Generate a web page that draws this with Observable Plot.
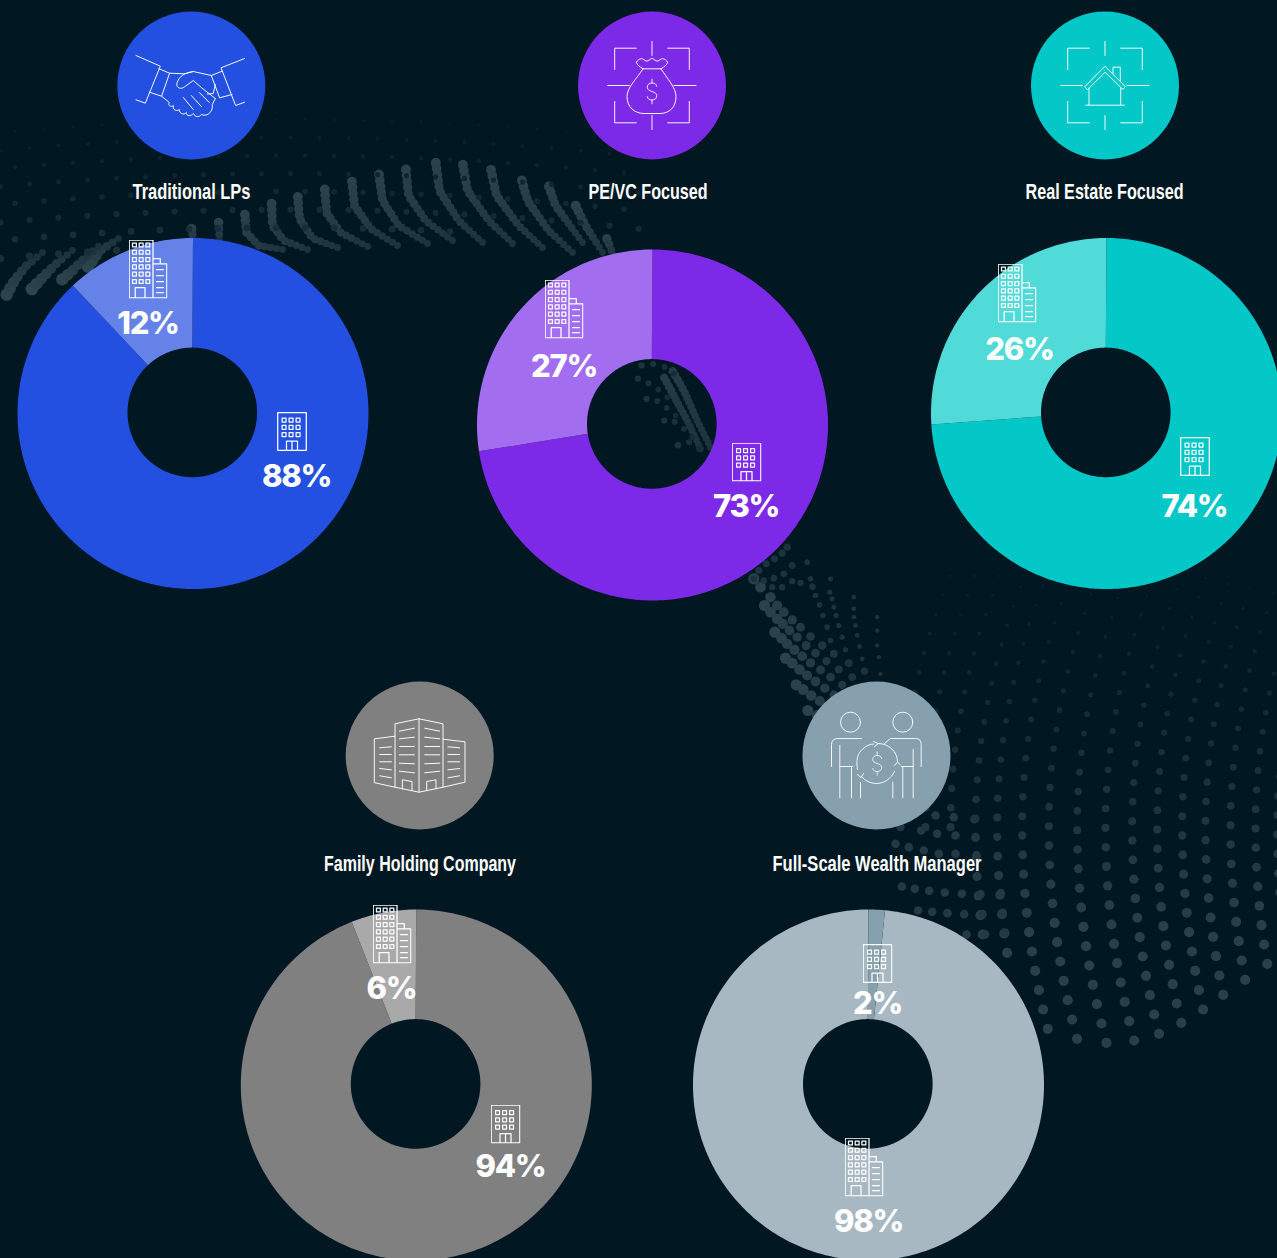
<!doctype html>
<html><head><meta charset="utf-8">
<style>html,body{margin:0;padding:0;background:#011722;overflow:hidden}svg{display:block}</style>
<script src="https://cdn.jsdelivr.net/npm/d3@7"></script>
<script src="https://cdn.jsdelivr.net/npm/@observablehq/plot@0.6"></script>
</head><body><div id="chart"></div>
<script>
// ---------- chart values ----------
const categories = ["Traditional LPs","PE/VC Focused","Real Estate Focused","Family Holding Company","Full-Scale Wealth Manager"];
const minorShare = [12, 27.4, 26, 6, 1.5];           // slice size
const minorLabels = ["12%","27%","26%","6%","2%"];
const majorLabels = ["88%","73%","74%","94%","98%"];
const mainColors = ["#2350e0","#7d2ae8","#04c8c8","#808080","#a8b8c2"];
const minorColors = ["#6482e8","#a36df0","#50dbd9","#a9a9a9","#87a0ad"];
const badgeColors = ["#2350e0","#7d2ae8","#04c8c8","#808080","#87a0ad"];

// ---------- layout ----------
const W = 1277, H = 1258, R = 175.5, r0 = 64.8, BG = "#011722";
const centers = [[192.5,413],[652,424.5],[1106,413],[415.8,1084.5],[868,1084.5]];
const badges = [[190.8,85],[651.5,85],[1104.5,85],[419.2,755],[876,755]];
const titlePos = [[191,192],[647.5,192],[1104,192],[419.5,864],[876.5,864]];
const titleWidths = [118,119,158,192,209];
const minorLabelPos = [[147.5,323.5],[563.5,366.5],[1019,349.5],[391,988.500],[877,1003.5]];
const majorLabelPos = [[296,476.5],[745.5,506.5],[1194,506.5],[510,1166.5],[868,1221.5]];
const tallPos = [[147.5,268.5],[563.5,308.5],[1016.5,292.5],[391.5,933.5],[863.5,1166.5]];
const smallPos = [[291.5,431],[746,461.5],[1194.5,456],[505,1123.5],[877,963]];

// ---------- donut slices ----------
function slicePts(i, a0, a1, color, id){
  const [cx,cy] = centers[i], n = Math.max(2, Math.ceil(a1-a0)), pts = [];
  const rad = a => a*Math.PI/180;
  for(let k=0;k<=n;k++){const a=rad(a0+(a1-a0)*k/n);pts.push({x:cx+R*Math.sin(a),y:cy-R*Math.cos(a),color,id});}
  for(let k=n;k>=0;k--){const a=rad(a0+(a1-a0)*k/n);pts.push({x:cx-.7+r0*Math.sin(a),y:cy-1.1+-r0*Math.cos(a),color,id});}
  return pts;
}
const slices = categories.flatMap((c,i)=>{
  const m = minorShare[i]*3.6;
  return i===4
    ? [...slicePts(i,m,360,mainColors[i],c+"-a"),...slicePts(i,0,m,minorColors[i],c+"-b")]
    : [...slicePts(i,0,360-m,mainColors[i],c+"-a"),...slicePts(i,360-m,360,minorColors[i],c+"-b")];
});

// ---------- decorative dotted texture ----------
const texture = [];
const tint = d3.interpolateRgb(BG,"#8fa7ae");
const add=(x,y,r,o)=>texture.push({x,y,r,o,c:tint(o)});
function strand(pts,step,r1,r2,o1,o2){
  let tot=0; const seg=[];
  for(let i=1;i<pts.length;i++){const d=Math.hypot(pts[i][0]-pts[i-1][0],pts[i][1]-pts[i-1][1]);seg.push(d);tot+=d;}
  for(let s=tot;s>=0;s-=step){
    let t=s,i=0; while(i<seg.length-1&&t>seg[i]){t-=seg[i];i++;}
    const f=t/seg[i],q=s/tot;
    add(pts[i][0]+(pts[i+1][0]-pts[i][0])*f,pts[i][1]+(pts[i+1][1]-pts[i][1])*f,r1+(r2-r1)*q,o1+(o2-o1)*q);
  }
}
// faint field behind the upper-left
for(let j=7;j>=0;j--)for(let i=0;i<24;i++){
  const x=i*29+(j%2)*14.5, y=258-j*18-x*.09+Math.pow(x/160,2)*4;
  if(y>232&&x>200)continue;
  if(x>640||y<100)continue;
  add(x,y,3.6-j*.26,.17-j*.018);
}
// upper ribbon strands
[[[191,228],[193,240]],[[218,220],[219,240]],
 [[244,210],[246,232],[258,245],[282,249]],[[271,202],[272,225],[283,240],[307,249]],
 [[297,193],[299,218],[312,238],[337,247]],[[324,185],[326,212],[340,232],[367,246]],
 [[351,177],[354,205],[370,228],[397,245]],[[378,170],[382,200],[398,225],[427,243]],
 [[405,165],[408,195],[425,220],[452,240]],[[435,160],[439,190],[458,220],[482,242]],
 [[462,162],[467,190],[488,220],[512,243]],[[490,167],[496,195],[518,225],[542,247]],
 [[520,175],[527,200],[548,230],[572,252]],[[547,182],[555,205],[582,242]],
 [[575,205],[585,225],[602,252]],[[605,235],[613,255]]
].forEach(s=>strand(s,6,5,3.4,.3,.2));
// strands at the left edge
[[[4,298],[14,280],[25,266],[42,252]],[[30,290],[42,277],[55,264],[72,250]],
 [[58,282],[70,272],[84,258],[98,246]],[[86,268],[100,250],[118,238]]
].forEach(s=>strand(s,7,6.5,3.4,.32,.18));
// strands through the purple donut's hole
const z7=(a)=>a.map(([x,y])=>[620+x/3,340+y/3]);
[[[150,80],[190,150],[230,240],[270,320]],[[125,100],[165,175],[205,250],[240,325]]
].forEach(s=>strand(z7(s),5,4.2,3.4,.26,.2));
[[[60,75],[95,70],[130,78],[160,100]],[[20,105],[65,118],[105,140],[140,170]],[[55,180],[95,172],[130,195],[165,225]],[[115,245],[150,235],[185,260],[215,290]],[[170,315],[205,305],[235,325]]
].forEach(s=>strand(z7(s),25/3*1.4,3.2,2.8,.2,.15));
// lower ribbon rows (from the purple donut down to the field)
const rows7=[
 [[400,715],[420,740],[450,770],[470,795],[490,815],[515,838],[540,860],[570,888],[605,915],[640,940],[685,968],[732,992]],
 [[432,795],[450,815],[470,835],[487,850],[507,870],[530,890],[557,915],[585,938],[618,962],[655,987],[695,1010]],
 [[463,875],[483,893],[500,910],[522,928],[545,947],[570,967],[600,988],[630,1010],[665,1033]],
 [[495,953],[515,968],[537,987],[560,1005],[585,1023],[613,1043],[640,1063]],
 [[527,1033],[548,1047],[572,1065],[598,1082],[620,1098]],
 [[562,1110],[590,1125]],
 [[400,715],[415,690],[437,670],[462,655],[485,638],[500,620]],
 [[430,720],[460,713],[490,700],[515,675]],
 [[455,740],[485,740],[515,722],[540,727],[575,738]],
 [[560,665],[570,715],[577,740],[585,765],[597,793],[607,825],[620,860],[630,900]],
 [[630,715],[628,755],[635,775],[640,800],[647,825],[655,855],[665,890],[675,928],[683,968]],
 [[700,770],[700,805],[700,830],[705,855],[710,885],[717,918],[725,955]],
 [[770,830],[770,870],[770,915],[775,950],[780,1000]]
];
rows7.forEach((row,ri)=>z7(row).forEach(([x,y],k)=>{
  const big=ri<6; add(x,y,big?Math.max(5.6-k*.18,3.2):Math.max(3.6-(ri-6)*.2,2)-(ri>8?.2:0),big?Math.max(.3-k*.01,.18):.19);
}));
// large field at the right: columns bowing around mid-height
const colMid=[60,135,210,285,350,425,505,590,675,755,830,905,975,1050,1125,1190];
const colEnd=[null,null,null,[320,1122],[385,1177],[488,1405],[570,1435],[655,1447],[740,1440],[822,1420],[900,1387],[972,1347],[1042,1303],[1110,1258],[1175,1210],[1230,1170]];
colMid.forEach((m,k)=>{
  const e=colEnd[k]; const endY=e?e[1]:800;
  for(let y=endY;y>40;y-=58){
    const d=y-800, x=m+(d>0?2.1e-4:2.6e-4)*d*d;
    const rx=880+x/3, ry=560+y/3;
    const q=Math.min(1,Math.max(0,(y-100)/1000));
    if(rx>1282)continue;
    add(rx,ry,1.6+3.5*q,.05+.23*q);
  }
});
// rows running left off that field
const z8=(a)=>a.map(([x,y])=>[880+x/3,560+y/3]);
[
 [[64,978],[103,985],[146,991],[193,996],[244,1000],[300,1001],[361,998]],
 [[113,1050],[155,1054],[201,1058],[251,1061],[306,1061],[367,1057]],
 [[258,1122],[314,1122],[374,1117]],
 [[165,765],[220,770],[282,776]],
 [[122,810],[170,820],[225,825],[285,830]],
 [[45,850],[85,860],[130,870],[175,880],[225,880],[288,884]]
].forEach(row=>z8(row).forEach(([x,y])=>add(x,y,4.3,.24)));

// ---------- icons ----------
const svgUri=(vb,w,body)=>"data:image/svg+xml,"+encodeURIComponent(`<svg xmlns="http://www.w3.org/2000/svg" viewBox="0 0 ${vb[0]} ${vb[1]}" fill="none" stroke="#fff" stroke-width="${w}" stroke-linejoin="round" stroke-linecap="round">${body}</svg>`);
const P=(d,o="")=>`<path d="${d}" ${o}/>`;
const dollar=(cx,cy,s)=>`<g transform="translate(${cx} ${cy}) scale(${s})">${P("M5-5.500C4.500-8 2.500-9 0-9-3-9-5-7-5-4.500-5-2-3-1 0 0 3 1 5 2 5 4.500 5 7 3 9 0 9-2.500 9-4.500 8-5 5.500M0-13V-9M0 9V13")}</g>`;
const frame=P("M44.300 22.700H22.700V44M75.700 22.700H97.300V44M22.700 76V97.300H44.300M97.300 76V97.300H75.700M60 16V30M60 90V104M15.700 60H37.300M82 60H104");
const topIcons=[
 svgUri([120,120],.95,P("M4.700 30 29 40.700 14 77.700 4.700 74.300M113.300 33 89.700 42.300 104.300 80 113.300 76.700M27.700 43.300 38.300 47.700 30.300 70.700 18 66.700M90.700 45.700 80 50 88.300 72.300 100.700 69")
  +P("M38.300 47.700 53.700 48.300 62 46 80 50M62 46C54 47 48 50 45.500 58 45 63 50 64 53 61.500L62 55 70 62 84 73M76 68.500 82 68 84 59M30.300 70.700 38 77C36 80 40 82 42 80 41 85 46 86 48 84 47.500 88 53 90 55 87 55 91 60 91 62 88 64 92 68 92 70 89 77 92 82 85 81 79L84 73M52 72 62 84M60 70 70 81M68 67 78 77")),
 svgUri([120,120],.95,frame+P("M51 43.300H69M51 43.300C47 41 45 39 44.300 36.700 47 33 50 32 53 35 56 37 58 33 60 33 62 33 64 37 67 35 70 32 73 33 75.700 36.700 75 39 73 41 69 43.300M51 43.300C45 53 35 62 35 71 35 82 43 88 52 88H68C77 88 84 82 84 71 84 62 75 53 69 43.300")+dollar(60,66,.95)),
 svgUri([120,120],.95,frame+P("M40 61 60 40.700 80.300 61 78 64 60 46.700 42.700 64ZM44 62.700V79.300M75.700 62.700V79.300M40.700 79.700H79.300M68 48V41.700H75.300V55")),
 svgUri([120,120],.95,P("M15 43.300 35.300 40.700V28.300L59.300 23.300 83.300 28.300V43.700L105.300 46.300V86.700L83.300 91.700 59.300 96.700 35.300 91.700 15 87.300ZM59.300 23.300V96.700M35.300 40.700V91.700M83.300 43.700V91.700M42.700 93.700V84.300L52.300 86V95M67 95V86L76.300 84.300V93.300")
  +P("M39.700 35.700 54.700 32.700M39.700 43.300 54.700 41.700M39.700 51H54.700M39.700 59.300H54.700M39.700 67.700 54.700 68.300M39.700 75.700 54.700 77.300M65 32.700 80 35.700M65 41.700 80 43.300M65 51H80M65 59.300H80M65 68.300 80 67.700M65 77.300 80 75.700M20 52.300 31.700 51.300M20 59H31.700M20 66.300H31.700M20 73 31.700 74.300M20 80.300 31.700 82.300M88.300 51.300 100 52.300M88.300 59H100M88.300 66.300H100M88.300 74.300 100 73M88.300 82.300 100 80.300")),
 svgUri([120,120],.9,`<circle cx="34" cy="26.700" r="10"/><circle cx="86.300" cy="26.700" r="10"/>`+P("M15 71V49Q15 43 21.700 43H45M23.300 50V102.300M23.300 71H36.300M35 71V102.300M44 86.700V102.300M104.700 71V49Q104.700 43 99 43H74L68 48M96.700 54V102.300M85 71H96.700M86.300 71V102.300M76.300 86.700V102.300")
  +P("M62 48C72 48 81 56 81 66M78 76C74 84 67 88 60 88 54 88 48 85 45 81M41 74C40 68 40 62 43 57 47 52 51 49 57 48.500M57 46 62 48 58 51M78 70 81 66.500 84 69.500M47 78 44.500 82 41 79")+dollar(60.700,68,.9))
];
const win=(x,y)=>`<rect x="${x}" y="${y}" width="3.900" height="3.900"/>`;
let tallBody=P("M.7.7H24.500V58.300H.7ZM24.500 19H31.800V24.300H24.500M24.500 24.300H38.300V58.300H24.500M6.700 58.300V48H16.500V58.300M28 30H35M28 36H35M28 42H35M28 48H35M28 53H35");
for(let r=0;r<6;r++)for(let c=0;c<3;c++)tallBody+=win(4+c*6.700,3.500+r*7.300);
const tallIcon=svgUri([39,59],1.25,tallBody);
let smallBody=P("M.7.7H29.300V38.300H.7ZM9.500 38.300V29H20.500V38.300M15 29V38.300");
for(let r=0;r<3;r++)for(let c=0;c<3;c++)smallBody+=win(5.100+c*7,6.200+r*7.200);
const smallIcon=svgUri([30,39],1.25,smallBody);

const xy=(p)=>p.map((d,i)=>({x:d[0],y:d[1],i}));
const pctFont={fontFamily:"Inter",fontWeight:800,fontSize:31,fill:"#fff",lineAnchor:"middle",textAnchor:"middle",text:"t",x:"x",y:"y"};

const chart=Plot.plot({
  width:W,height:H,margin:0,
  style:{background:BG,fontFamily:"Inter"},
  x:{domain:[0,W],range:[0,W],axis:null},
  y:{domain:[0,H],range:[0,H],axis:null},
  color:{type:"identity"},
  r:{type:"identity"},
  marks:[
    Plot.dot(texture,{x:"x",y:"y",r:"r",fill:"c",stroke:"none"}),
    Plot.dot(xy(badges),{x:"x",y:"y",r:74,fill:d=>badgeColors[d.i],stroke:"none"}),
    Plot.image(xy(badges),{x:"x",y:"y",width:120,height:120,src:d=>topIcons[d.i]}),
    Plot.line(slices,{x:"x",y:"y",z:"id",fill:"color",stroke:"none",curve:"linear-closed"}),
    Plot.image(xy(tallPos),{x:"x",y:"y",width:39,height:59,src:()=>tallIcon}),
    Plot.image(xy(smallPos),{x:"x",y:"y",width:30,height:39,src:()=>smallIcon}),
    Plot.text(titlePos.map((d,i)=>({x:d[0],y:d[1],t:categories[i]})),{x:"x",y:"y",text:"t",fill:"#fff",fontFamily:"Liberation Sans",fontWeight:700,fontSize:21.5,lineAnchor:"middle",textAnchor:"middle"}),
    Plot.text(minorLabelPos.map((d,i)=>({x:d[0],y:d[1],t:minorLabels[i]})),pctFont),
    Plot.text(majorLabelPos.map((d,i)=>({x:d[0],y:d[1],t:majorLabels[i]})),pctFont)
  ]
});
// titles are set in a condensed cut: squeeze to the measured width; percentages are tightly spaced
const textGroups=[...chart.querySelectorAll('g[aria-label="text"]')];
textGroups[0].querySelectorAll("text").forEach((t,i)=>{
  t.setAttribute("textLength",titleWidths[i]);t.setAttribute("lengthAdjust","spacingAndGlyphs");
});
textGroups.slice(1).forEach(g=>g.querySelectorAll("text").forEach(t=>{t.style.letterSpacing="-1.3px";}));
document.getElementById("chart").append(chart);
</script></body></html>
